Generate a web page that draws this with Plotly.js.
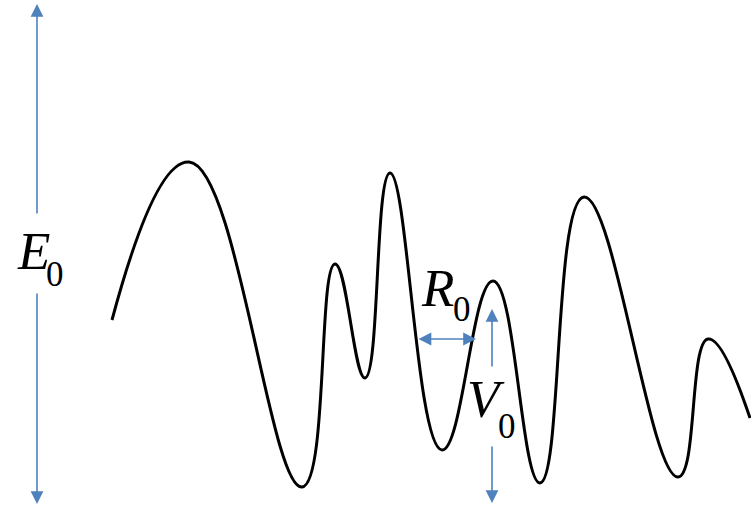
<!DOCTYPE html>
<html>
<head>
<meta charset="utf-8">
<script src="https://cdn.plot.ly/plotly-3.0.1.min.js"></script>
<style>html,body{margin:0;padding:0;background:#fff;}#chart{width:751px;height:507px;}</style>
</head>
<body>
<div id="chart"></div>
<script>
// Potential energy landscape (x = position, y = energy, pixel-like units)
var curveX = [112,189,302,335,365,390,442,493,540,584,678,708,750];
var curveY = [187,345,20,243,129,334,57,226,24,310,30,168,89];

var labels = ['E', 'R', 'V'];
var subLabel = '0';

var blue = '#4F81BD';
var serif = 'Liberation Serif, Times New Roman, serif';

function arrow(x, y, ax, ay, side) {
  return {x: x, y: y, ax: ax, ay: ay, xref: 'x', yref: 'y', axref: 'x', ayref: 'y',
    text: '', showarrow: true, arrowhead: 2, startarrowhead: 2, arrowside: side || 'end',
    arrowsize: 1.6, startarrowsize: 1.6, arrowwidth: 1.6, arrowcolor: blue, standoff: 0, startstandoff: 0};
}
function label(t, x, y, size, italic) {
  return {x: x, y: y, xref: 'x', yref: 'y', text: italic ? '<i>' + t + '</i>' : t, showarrow: false,
    font: {family: serif, size: size, color: '#000'}, xanchor: 'center', yanchor: 'middle'};
}

var annotations = [
  arrow(37, 503, 37, 292),
  arrow(37, 3, 37, 215),
  arrow(476, 168, 417, 168, 'end+start'),
  arrow(492, 198, 492, 139),
  arrow(492, 4, 492, 62),
  label(labels[0], 33, 256, 53, true),
  label(subLabel, 55, 233, 35, false),
  label(labels[1], 437, 219, 53, true),
  label(subLabel, 462, 198, 35, false),
  label(labels[2], 486, 108, 53, true),
  label(subLabel, 507, 81, 35, false)
];

var trace = {x: curveX, y: curveY, mode: 'lines', type: 'scatter',
  line: {color: '#000', width: 3, shape: 'spline', smoothing: 1.3}, hoverinfo: 'skip'};

var layout = {
  width: 751, height: 507,
  margin: {l: 0, r: 0, t: 0, b: 0},
  paper_bgcolor: '#fff', plot_bgcolor: '#fff',
  showlegend: false,
  xaxis: {range: [0, 751], visible: false, fixedrange: true},
  yaxis: {range: [0, 507], visible: false, fixedrange: true},
  annotations: annotations
};

Plotly.newPlot('chart', [trace], layout, {staticPlot: true, displayModeBar: false});
</script>
</body>
</html>
